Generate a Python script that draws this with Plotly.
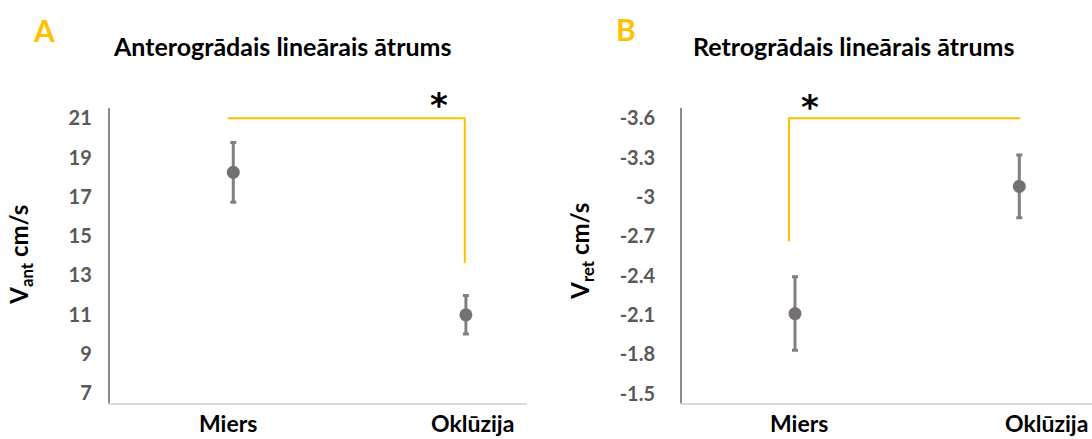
import plotly.graph_objects as go

# Categories
categories = ["Miers", "Oklūzija"]

# Panel A: anterograde linear velocity (cm/s), mean and error
ant_mean = [18.25, 11.0]
ant_err = [1.52, 0.98]

# Panel B: retrograde linear velocity (cm/s), mean and error
ret_mean = [-2.11, -3.08]
ret_err = [0.28, 0.24]

# Significance brackets: level of the horizontal bar and end of the vertical drop
ant_bracket = [21.0, 13.64]
ret_bracket = [-3.6, -2.66]

# Tick values
ant_ticks = [7, 9, 11, 13, 15, 17, 19, 21]
ret_ticks = [-1.5, -1.8, -2.1, -2.4, -2.7, -3.0, -3.3, -3.6]
ret_ticktext = ["-1.5", "-1.8", "-2.1", "-2.4", "-2.7", "-3", "-3.3", "-3.6"]

W, H = 1092, 439
FONT = "Lato"
GOLD = "#FFC000"
POINT = "#767171"
BAR = "#808080"
TICK = "#595959"


def px(x):
    return x / W


def py(y):
    return 1 - y / H


xpos = [0, 1]

fig = go.Figure()

for mean, err, xa, ya in [(ant_mean, ant_err, "x", "y"), (ret_mean, ret_err, "x2", "y2")]:
    fig.add_trace(go.Scatter(
        x=xpos, y=mean, mode="markers", xaxis=xa, yaxis=ya,
        marker=dict(size=13, color=POINT),
        error_y=dict(type="data", array=err, visible=True,
                     color=BAR, thickness=3, width=3),
        showlegend=False, hoverinfo="skip",
    ))

# Bracket A: across from Miers, then down toward Oklūzija
fig.add_trace(go.Scatter(
    x=[xpos[0] - 0.023, xpos[1] - 0.005, xpos[1] - 0.005],
    y=[ant_bracket[0], ant_bracket[0], ant_bracket[1]],
    mode="lines", line=dict(color=GOLD, width=2),
    xaxis="x", yaxis="y", showlegend=False, hoverinfo="skip",
))
# Bracket B: up from Miers, then across to Oklūzija
fig.add_trace(go.Scatter(
    x=[xpos[0] - 0.027, xpos[0] - 0.027, xpos[1] + 0.004],
    y=[ret_bracket[1], ret_bracket[0], ret_bracket[0]],
    mode="lines", line=dict(color=GOLD, width=2),
    xaxis="x2", yaxis="y2", showlegend=False, hoverinfo="skip",
))

tickfont = dict(family=FONT, size=20, color=TICK, weight="bold")
ydom = [py(404.3), py(106.7)]

fig.update_layout(
    width=W, height=H,
    margin=dict(l=0, r=0, t=0, b=0),
    paper_bgcolor="white", plot_bgcolor="white",
    xaxis=dict(domain=[px(109.5), px(526.5)], range=[-0.532, 1.2605],
               showgrid=False, zeroline=False, showticklabels=False,
               showline=True, linecolor="#d9d9d9", linewidth=2),
    yaxis=dict(domain=ydom, range=[6.534, 21.534], anchor="x",
               tickvals=ant_ticks, tickfont=tickfont, ticks="",
               ticklabelstandoff=12,
               showgrid=False, zeroline=False,
               showline=True, linecolor="#8c8c8c", linewidth=1.5),
    xaxis2=dict(domain=[px(681.8), 1.0], range=[-0.5047, 1.3241], anchor="y2",
                showgrid=False, zeroline=False, showticklabels=False,
                showline=True, linecolor="#d9d9d9", linewidth=2),
    yaxis2=dict(domain=ydom, range=[-1.431, -3.680], anchor="x2",
                tickvals=ret_ticks, ticktext=ret_ticktext, tickfont=tickfont,
                ticks="", ticklabelstandoff=21,
                showgrid=False, zeroline=False,
                showline=True, linecolor="#8c8c8c", linewidth=1.5),
)

ann = []


def text(x, y, s, size, color="black", angle=0, family=FONT):
    ann.append(dict(x=px(x), y=py(y), xref="paper", yref="paper", text=s,
                    showarrow=False, textangle=angle,
                    xanchor="center", yanchor="middle",
                    font=dict(family=family, size=size, color=color, weight="bold")))


# Category labels under each panel
label_shift_a = [-5, 7]
label_shift_b = [4, 27]
for i, cat in enumerate(categories):
    ann.append(dict(x=xpos[i], y=py(425), xref="x", yref="paper", text=cat,
                    showarrow=False, xshift=label_shift_a[i],
                    xanchor="center", yanchor="middle",
                    font=dict(family=FONT, size=23, color="black", weight="bold")))
    ann.append(dict(x=xpos[i], y=py(425), xref="x2", yref="paper", text=cat,
                    showarrow=False, xshift=label_shift_b[i],
                    xanchor="center", yanchor="middle",
                    font=dict(family=FONT, size=23, color="black", weight="bold")))

text(43.5, 28, "A", 30, GOLD)
text(626, 27, "B", 30, GOLD)
text(282, 44, "Anterogrādais lineārais ātrums", 25)
text(853, 44, "Retrogrādais lineārais ātrums", 25)
text(439, 104, "*", 34, family="DejaVu Sans")
text(810, 106, "*", 34, family="DejaVu Sans")
text(21, 255, "V<sub>ant</sub> cm/s", 24, angle=-90)
text(582, 252, "V<sub>ret</sub> cm/s", 24, angle=-90)

fig.update_layout(annotations=ann)

fig.write_html("out.html")
